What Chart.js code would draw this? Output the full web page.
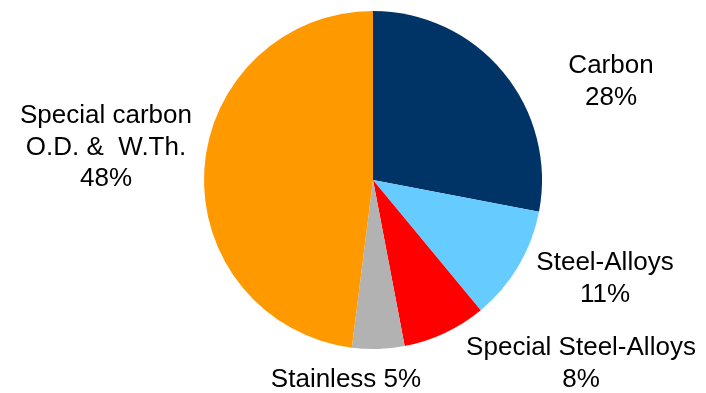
<!DOCTYPE html>
<html>
<head>
<meta charset="utf-8">
<script src="https://cdn.jsdelivr.net/npm/chart.js@4/dist/chart.umd.min.js"></script>
<style>
  html, body { margin: 0; padding: 0; background: #fff; }
  canvas { display: block; }
</style>
</head>
<body>
<canvas id="mixChart" width="706" height="393"></canvas>
<script>
const categories = ['Carbon', 'Steel-Alloys', 'Special Steel-Alloys', 'Stainless', 'Special carbon O.D. &  W.Th.'];
const shares = [28, 11, 8, 5, 48];
const colors = ['#003366', '#66CCFF', '#FF0000', '#B2B2B2', '#FF9900'];

// label text lines and where their first baseline sits (canvas px)
const labelLines = [
    ['Carbon', shares[0] + '%'],
    ['Steel-Alloys', shares[1] + '%'],
    ['Special Steel-Alloys', shares[2] + '%'],
    ['Stainless ' + shares[3] + '%'],
    ['Special carbon', 'O.D. &  W.Th.', shares[4] + '%']
];
const labelAt = [[611, 73], [605, 270], [581, 355], [346, 387], [106, 123]];

const outsideLabels = {
    id: 'outsideLabels',
    afterDatasetsDraw(chart) {
        const c = chart.ctx;
        c.save();
        c.fillStyle = '#000';
        c.font = '26px "Liberation Sans", Arial, sans-serif';
        c.textAlign = 'center';
        c.textBaseline = 'alphabetic';
        labelLines.forEach((lines, i) => {
            lines.forEach((t, j) => c.fillText(t, labelAt[i][0], labelAt[i][1] + j * 31.5));
        });
        c.restore();
    }
};

const ctx = document.getElementById('mixChart').getContext('2d');
const mixChart = new Chart(ctx, {
    type: 'pie',
    data: {
        labels: categories,
        datasets: [{
            data: shares,
            backgroundColor: colors,
            borderWidth: 0
        }]
    },
    options: {
        responsive: false,
        animation: false,
        layout: { padding: { left: 204, right: 164, top: 10, bottom: 43 } },
        plugins: {
            legend: { display: false },
            tooltip: { enabled: false }
        }
    },
    plugins: [outsideLabels]
});
</script>
</body>
</html>
